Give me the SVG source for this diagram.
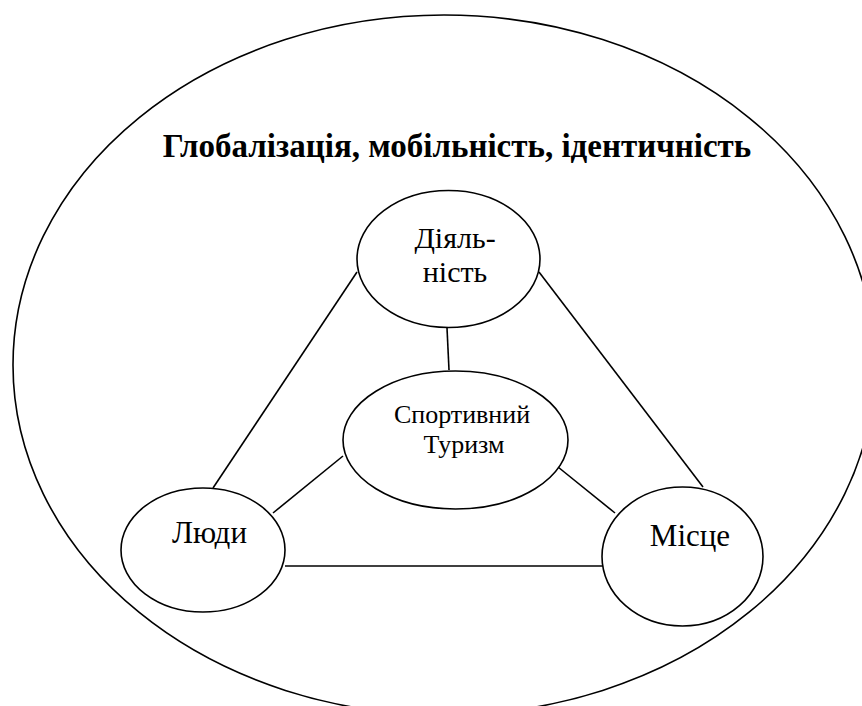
<svg xmlns="http://www.w3.org/2000/svg" width="862" height="706" viewBox="0 0 862 706">
<style>
.sh{fill:#fff;stroke:#000;stroke-width:1.6}
.ln{stroke:#000;stroke-width:1.6;fill:none}
text{font-family:'Liberation Serif','DejaVu Serif',serif;fill:#000;text-anchor:middle}
</style>
<rect width="862" height="706" fill="#fff"/>
<g id="outer">
<ellipse class="sh" cx="444" cy="365" rx="431" ry="350"/>
<text x="457" y="157" font-size="33" font-weight="bold">Глобалізація, мобільність, ідентичність</text>
</g>
<g id="connectors">
<line class="ln" x1="357" y1="272" x2="213" y2="488"/>
<line class="ln" x1="539" y1="272" x2="703" y2="487"/>
<line class="ln" x1="447" y1="328" x2="449" y2="370"/>
<line class="ln" x1="343" y1="456" x2="273" y2="513"/>
<line class="ln" x1="558" y1="467" x2="615" y2="513"/>
<line class="ln" x1="285" y1="566" x2="615" y2="566" stroke-width="2"/>
</g>
<g id="diyalnist">
<ellipse class="sh" cx="448.5" cy="259" rx="91.5" ry="68.5"/>
<text x="455" y="248" font-size="30">Діяль-</text>
<text x="455" y="282" font-size="30">ність</text>
</g>
<g id="sport">
<ellipse class="sh" cx="455.5" cy="440" rx="112.5" ry="69"/>
<text x="462" y="423" font-size="26">Спортивний</text>
<text x="464" y="453" font-size="26">Туризм</text>
</g>
<g id="lyudy">
<ellipse class="sh" cx="203" cy="550" rx="82" ry="62"/>
<text x="209.5" y="543" font-size="31">Люди</text>
</g>
<g id="mistse">
<ellipse class="sh" cx="682.5" cy="556.5" rx="80.5" ry="69.5"/>
<text x="690" y="546" font-size="31">Місце</text>
</g>
</svg>
